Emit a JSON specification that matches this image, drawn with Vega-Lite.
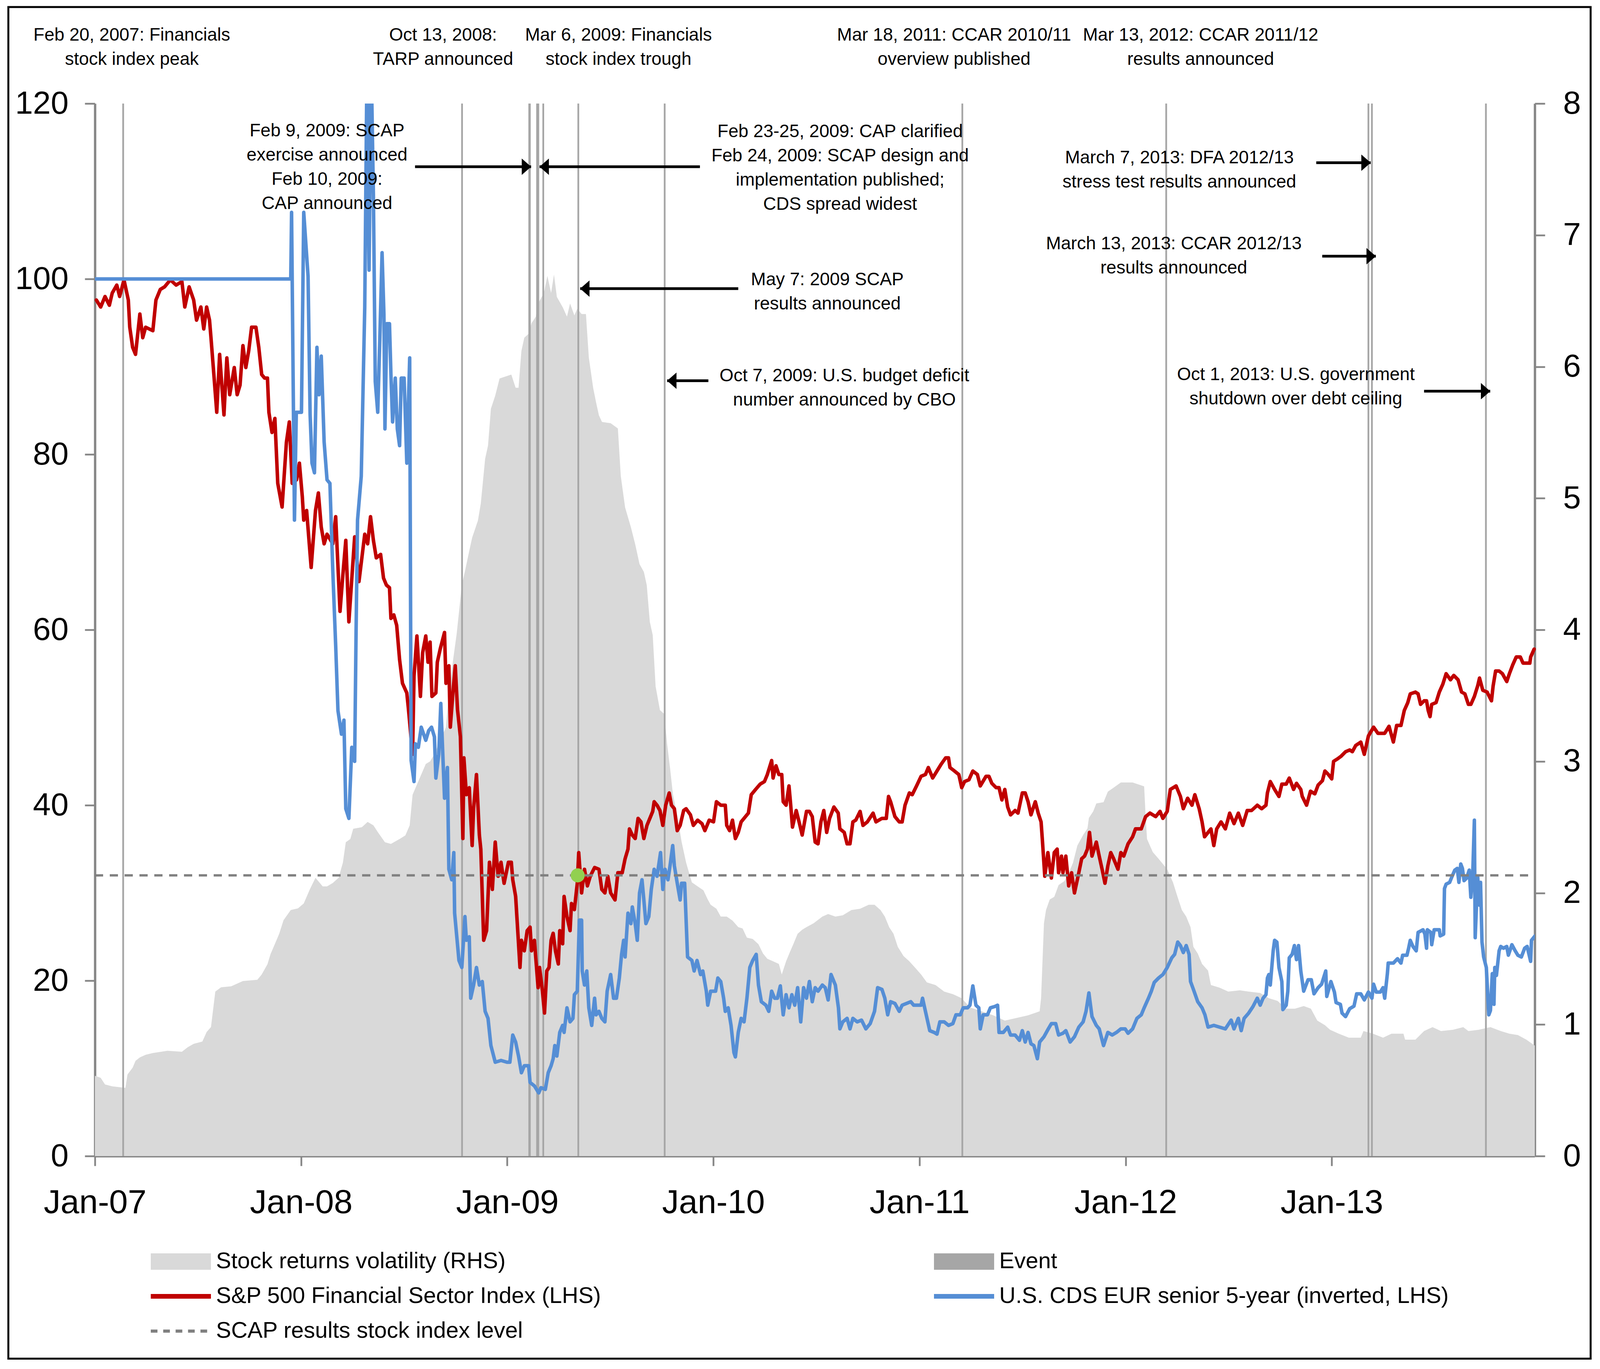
{
  "$schema": "https://vega.github.io/schema/vega-lite/v6.json",
  "width": 3686,
  "height": 2694,
  "autosize": {"type": "none"},
  "padding": {"left": 243, "top": 265, "right": 167, "bottom": 545},
  "background": "white",
  "config": {
    "view": {"stroke": null},
    "font": "Liberation Sans",
    "axis": {"labelFont": "Liberation Sans", "labelColor": "black", "domainColor": "#868686", "tickColor": "#868686", "domainWidth": 6, "tickWidth": 4.5, "grid": false, "labelLimit": 1000}
  },
  "datasets": {
    "vol": [
      {"t":2007.000,"r":0.61},{"t":2007.028,"r":0.595},{"t":2007.049,"r":0.544},{"t":2007.084,"r":0.53},{"t":2007.148,"r":0.518},{"t":2007.158,"r":0.62},
      {"t":2007.183,"r":0.672},{"t":2007.197,"r":0.724},{"t":2007.218,"r":0.75},{"t":2007.246,"r":0.77},{"t":2007.281,"r":0.783},{"t":2007.352,"r":0.80},
      {"t":2007.422,"r":0.793},{"t":2007.450,"r":0.827},{"t":2007.479,"r":0.853},{"t":2007.521,"r":0.87},{"t":2007.542,"r":0.943},{"t":2007.563,"r":0.981},
      {"t":2007.584,"r":1.25},{"t":2007.612,"r":1.283},{"t":2007.661,"r":1.29},{"t":2007.718,"r":1.33},{"t":2007.788,"r":1.34},{"t":2007.809,"r":1.38},
      {"t":2007.837,"r":1.458},{"t":2007.852,"r":1.535},{"t":2007.873,"r":1.612},{"t":2007.894,"r":1.69},{"t":2007.915,"r":1.793},{"t":2007.950,"r":1.87},
      {"t":2007.985,"r":1.883},{"t":2008.013,"r":1.92},{"t":2008.042,"r":2.025},{"t":2008.070,"r":2.115},{"t":2008.105,"r":2.05},{"t":2008.126,"r":2.05},
      {"t":2008.154,"r":2.076},{"t":2008.182,"r":2.115},{"t":2008.203,"r":2.23},{"t":2008.217,"r":2.385},{"t":2008.239,"r":2.41},{"t":2008.253,"r":2.488},
      {"t":2008.295,"r":2.5},{"t":2008.323,"r":2.54},{"t":2008.351,"r":2.514},{"t":2008.372,"r":2.463},{"t":2008.407,"r":2.385},{"t":2008.436,"r":2.373},
      {"t":2008.478,"r":2.41},{"t":2008.506,"r":2.437},{"t":2008.527,"r":2.514},{"t":2008.541,"r":2.746},{"t":2008.562,"r":2.823},{"t":2008.583,"r":2.9},
      {"t":2008.605,"r":2.98},{"t":2008.626,"r":3.0},{"t":2008.647,"r":3.055},{"t":2008.682,"r":3.184},{"t":2008.703,"r":3.26},{"t":2008.717,"r":3.52},
      {"t":2008.738,"r":3.776},{"t":2008.755,"r":3.97},{"t":2008.780,"r":4.34},{"t":2008.795,"r":4.445},{"t":2008.816,"r":4.6},{"t":2008.830,"r":4.7},
      {"t":2008.858,"r":4.83},{"t":2008.872,"r":4.96},{"t":2008.893,"r":5.3},{"t":2008.907,"r":5.4},{"t":2008.921,"r":5.68},{"t":2008.942,"r":5.78},
      {"t":2008.963,"r":5.91},{"t":2009.020,"r":5.94},{"t":2009.041,"r":5.84},{"t":2009.055,"r":5.84},{"t":2009.069,"r":6.12},{"t":2009.083,"r":6.22},
      {"t":2009.104,"r":6.25},{"t":2009.118,"r":6.33},{"t":2009.139,"r":6.38},{"t":2009.150,"r":6.48},{"t":2009.178,"r":6.56},{"t":2009.195,"r":6.69},
      {"t":2009.213,"r":6.56},{"t":2009.227,"r":6.7},{"t":2009.241,"r":6.53},{"t":2009.270,"r":6.45},{"t":2009.290,"r":6.38},{"t":2009.305,"r":6.48},
      {"t":2009.326,"r":6.39},{"t":2009.340,"r":6.44},{"t":2009.361,"r":6.4},{"t":2009.382,"r":6.4},{"t":2009.396,"r":6.07},{"t":2009.417,"r":5.84},
      {"t":2009.431,"r":5.73},{"t":2009.445,"r":5.63},{"t":2009.460,"r":5.58},{"t":2009.502,"r":5.57},{"t":2009.537,"r":5.53},{"t":2009.551,"r":5.17},
      {"t":2009.572,"r":4.93},{"t":2009.600,"r":4.78},{"t":2009.621,"r":4.65},{"t":2009.642,"r":4.5},{"t":2009.663,"r":4.44},{"t":2009.677,"r":4.34},
      {"t":2009.692,"r":4.06},{"t":2009.706,"r":3.96},{"t":2009.720,"r":3.57},{"t":2009.741,"r":3.39},{"t":2009.762,"r":3.36},{"t":2009.776,"r":3.13},
      {"t":2009.790,"r":2.95},{"t":2009.804,"r":2.75},{"t":2009.825,"r":2.59},{"t":2009.846,"r":2.39},{"t":2009.868,"r":2.23},{"t":2009.896,"r":2.08},
      {"t":2009.924,"r":2.05},{"t":2009.952,"r":2.02},{"t":2009.973,"r":1.95},{"t":2009.987,"r":1.91},{"t":2010.015,"r":1.88},{"t":2010.036,"r":1.82},
      {"t":2010.065,"r":1.82},{"t":2010.093,"r":1.79},{"t":2010.121,"r":1.74},{"t":2010.142,"r":1.73},{"t":2010.163,"r":1.66},{"t":2010.191,"r":1.65},
      {"t":2010.219,"r":1.61},{"t":2010.241,"r":1.54},{"t":2010.262,"r":1.5},{"t":2010.290,"r":1.48},{"t":2010.318,"r":1.46},{"t":2010.332,"r":1.38},
      {"t":2010.353,"r":1.48},{"t":2010.374,"r":1.56},{"t":2010.388,"r":1.61},{"t":2010.409,"r":1.69},{"t":2010.431,"r":1.72},{"t":2010.452,"r":1.74},
      {"t":2010.487,"r":1.77},{"t":2010.529,"r":1.82},{"t":2010.557,"r":1.84},{"t":2010.592,"r":1.82},{"t":2010.628,"r":1.83},{"t":2010.670,"r":1.87},
      {"t":2010.712,"r":1.88},{"t":2010.754,"r":1.91},{"t":2010.782,"r":1.91},{"t":2010.811,"r":1.87},{"t":2010.832,"r":1.82},{"t":2010.853,"r":1.74},
      {"t":2010.874,"r":1.69},{"t":2010.895,"r":1.59},{"t":2010.923,"r":1.52},{"t":2010.951,"r":1.48},{"t":2010.980,"r":1.43},{"t":2011.008,"r":1.38},
      {"t":2011.036,"r":1.32},{"t":2011.078,"r":1.3},{"t":2011.120,"r":1.25},{"t":2011.163,"r":1.23},{"t":2011.205,"r":1.2},{"t":2011.245,"r":1.13},
      {"t":2011.302,"r":1.1},{"t":2011.358,"r":1.07},{"t":2011.414,"r":1.03},{"t":2011.471,"r":1.05},{"t":2011.527,"r":1.07},{"t":2011.583,"r":1.1},
      {"t":2011.590,"r":1.2},{"t":2011.604,"r":1.77},{"t":2011.614,"r":1.87},{"t":2011.632,"r":1.95},{"t":2011.654,"r":1.97},{"t":2011.675,"r":2.06},
      {"t":2011.703,"r":2.09},{"t":2011.724,"r":2.15},{"t":2011.745,"r":2.23},{"t":2011.766,"r":2.36},{"t":2011.794,"r":2.44},{"t":2011.815,"r":2.49},
      {"t":2011.822,"r":2.57},{"t":2011.843,"r":2.62},{"t":2011.858,"r":2.68},{"t":2011.893,"r":2.69},{"t":2011.914,"r":2.77},{"t":2011.942,"r":2.8},
      {"t":2011.977,"r":2.84},{"t":2012.034,"r":2.84},{"t":2012.090,"r":2.81},{"t":2012.097,"r":2.59},{"t":2012.104,"r":2.41},{"t":2012.132,"r":2.31},
      {"t":2012.160,"r":2.26},{"t":2012.181,"r":2.22},{"t":2012.202,"r":2.18},{"t":2012.230,"r":2.08},{"t":2012.252,"r":1.97},{"t":2012.273,"r":1.87},
      {"t":2012.294,"r":1.82},{"t":2012.315,"r":1.74},{"t":2012.329,"r":1.59},{"t":2012.350,"r":1.54},{"t":2012.371,"r":1.46},{"t":2012.400,"r":1.41},
      {"t":2012.414,"r":1.3},{"t":2012.456,"r":1.28},{"t":2012.498,"r":1.25},{"t":2012.554,"r":1.26},{"t":2012.597,"r":1.25},{"t":2012.653,"r":1.24},
      {"t":2012.695,"r":1.2},{"t":2012.737,"r":1.18},{"t":2012.779,"r":1.12},{"t":2012.822,"r":1.12},{"t":2012.864,"r":1.14},{"t":2012.899,"r":1.12},
      {"t":2012.930,"r":1.03},{"t":2012.967,"r":0.995},{"t":2012.992,"r":0.96},{"t":2013.034,"r":0.93},{"t":2013.083,"r":0.9},{"t":2013.141,"r":0.9},
      {"t":2013.154,"r":0.95},{"t":2013.200,"r":0.93},{"t":2013.249,"r":0.9},{"t":2013.290,"r":0.93},{"t":2013.348,"r":0.93},{"t":2013.356,"r":0.885},
      {"t":2013.406,"r":0.885},{"t":2013.448,"r":0.95},{"t":2013.489,"r":0.98},{"t":2013.530,"r":0.95},{"t":2013.588,"r":0.96},{"t":2013.638,"r":0.98},
      {"t":2013.663,"r":0.95},{"t":2013.713,"r":0.96},{"t":2013.770,"r":0.98},{"t":2013.820,"r":0.95},{"t":2013.862,"r":0.93},{"t":2013.903,"r":0.92},
      {"t":2013.944,"r":0.885},{"t":2013.985,"r":0.84}
    ],
    "red": [
      {"t":2007.007,"v":97.6},{"t":2007.028,"v":96.8},{"t":2007.049,"v":98},{"t":2007.070,"v":97},{"t":2007.084,"v":98.4},{"t":2007.106,"v":99.3},
      {"t":2007.120,"v":98},{"t":2007.141,"v":99.9},{"t":2007.162,"v":97.6},{"t":2007.169,"v":94.5},{"t":2007.183,"v":92.2},{"t":2007.197,"v":91.4},
      {"t":2007.218,"v":96},{"t":2007.232,"v":93.3},{"t":2007.246,"v":94.5},{"t":2007.281,"v":94.1},{"t":2007.296,"v":97.6},{"t":2007.317,"v":98.8},
      {"t":2007.338,"v":99.1},{"t":2007.366,"v":99.9},{"t":2007.394,"v":99.3},{"t":2007.422,"v":99.7},{"t":2007.436,"v":96.8},{"t":2007.457,"v":99.1},
      {"t":2007.479,"v":97.6},{"t":2007.493,"v":95.3},{"t":2007.514,"v":96.8},{"t":2007.528,"v":94.3},{"t":2007.542,"v":96.8},{"t":2007.556,"v":95.3},
      {"t":2007.563,"v":93.3},{"t":2007.577,"v":89.1},{"t":2007.591,"v":84.8},{"t":2007.605,"v":91.4},{"t":2007.626,"v":84.5},{"t":2007.640,"v":91},
      {"t":2007.654,"v":86.8},{"t":2007.676,"v":89.9},{"t":2007.690,"v":86.8},{"t":2007.704,"v":87.9},{"t":2007.718,"v":92.4},{"t":2007.732,"v":89.9},
      {"t":2007.746,"v":91.8},{"t":2007.760,"v":94.5},{"t":2007.781,"v":94.5},{"t":2007.795,"v":92.2},{"t":2007.809,"v":89.1},{"t":2007.823,"v":88.7},
      {"t":2007.837,"v":88.7},{"t":2007.844,"v":84.8},{"t":2007.859,"v":82.5},{"t":2007.873,"v":84.1},{"t":2007.887,"v":76.7},{"t":2007.908,"v":74},
      {"t":2007.929,"v":81.4},{"t":2007.943,"v":83.7},{"t":2007.957,"v":76.7},{"t":2007.978,"v":77.1},{"t":2007.992,"v":79},{"t":2008.006,"v":75.2},
      {"t":2008.013,"v":72.5},{"t":2008.027,"v":73.6},{"t":2008.049,"v":67.1},{"t":2008.070,"v":73.6},{"t":2008.084,"v":75.6},{"t":2008.098,"v":71.7},
      {"t":2008.112,"v":69.8},{"t":2008.126,"v":70.9},{"t":2008.154,"v":69.8},{"t":2008.168,"v":72.9},{"t":2008.189,"v":62.1},{"t":2008.203,"v":66.3},
      {"t":2008.217,"v":70.2},{"t":2008.232,"v":60.9},{"t":2008.260,"v":70.6},{"t":2008.281,"v":65.5},{"t":2008.309,"v":70.9},{"t":2008.323,"v":69.8},
      {"t":2008.337,"v":72.9},{"t":2008.351,"v":70.2},{"t":2008.365,"v":68.2},{"t":2008.386,"v":68.6},{"t":2008.400,"v":65.9},{"t":2008.414,"v":65.1},
      {"t":2008.429,"v":64.8},{"t":2008.436,"v":61.3},{"t":2008.450,"v":61.7},{"t":2008.464,"v":60.5},{"t":2008.478,"v":56.6},{"t":2008.492,"v":53.9},
      {"t":2008.513,"v":52.8},{"t":2008.520,"v":51.2},{"t":2008.541,"v":45.8},{"t":2008.548,"v":54.7},{"t":2008.562,"v":59.3},{"t":2008.569,"v":56.6},
      {"t":2008.579,"v":52.4},{"t":2008.590,"v":57.4},{"t":2008.605,"v":59.3},{"t":2008.616,"v":56.3},{"t":2008.626,"v":58.6},{"t":2008.635,"v":52.4},
      {"t":2008.654,"v":52.8},{"t":2008.661,"v":56.3},{"t":2008.675,"v":57.8},{"t":2008.696,"v":59.7},{"t":2008.703,"v":53.9},{"t":2008.717,"v":55.9},
      {"t":2008.724,"v":48.9},{"t":2008.738,"v":53.2},{"t":2008.748,"v":55.9},{"t":2008.759,"v":50.9},{"t":2008.773,"v":47.8},{"t":2008.785,"v":36.2},
      {"t":2008.790,"v":45.4},{"t":2008.802,"v":41.2},{"t":2008.816,"v":42},{"t":2008.830,"v":35.4},{"t":2008.837,"v":39.6},{"t":2008.851,"v":43.5},
      {"t":2008.865,"v":36.6},{"t":2008.872,"v":35},{"t":2008.886,"v":24.6},{"t":2008.900,"v":25.7},{"t":2008.914,"v":33.5},{"t":2008.928,"v":30.4},
      {"t":2008.942,"v":35.8},{"t":2008.956,"v":31.9},{"t":2008.970,"v":33.5},{"t":2008.985,"v":31.1},{"t":2009.006,"v":33.5},{"t":2009.020,"v":33.5},
      {"t":2009.027,"v":31.5},{"t":2009.041,"v":29.6},{"t":2009.048,"v":26.9},{"t":2009.062,"v":21.5},{"t":2009.069,"v":24.6},{"t":2009.083,"v":23.4},
      {"t":2009.097,"v":25.7},{"t":2009.111,"v":26.1},{"t":2009.118,"v":23.4},{"t":2009.132,"v":24.6},{"t":2009.136,"v":23.4},{"t":2009.150,"v":19.2},
      {"t":2009.157,"v":21.5},{"t":2009.171,"v":18.8},{"t":2009.181,"v":16.3},{"t":2009.192,"v":21.1},{"t":2009.203,"v":21.5},{"t":2009.213,"v":24.6},
      {"t":2009.223,"v":25.4},{"t":2009.234,"v":23.4},{"t":2009.248,"v":21.9},{"t":2009.255,"v":25.7},{"t":2009.269,"v":24.2},{"t":2009.276,"v":29.6},
      {"t":2009.290,"v":27.3},{"t":2009.305,"v":25.7},{"t":2009.312,"v":28.8},{"t":2009.326,"v":28.1},{"t":2009.340,"v":31.1},{"t":2009.347,"v":34.6},
      {"t":2009.361,"v":30},{"t":2009.375,"v":32.7},{"t":2009.389,"v":30.8},{"t":2009.403,"v":31.9},{"t":2009.424,"v":32.9},{"t":2009.445,"v":32.7},
      {"t":2009.459,"v":30.4},{"t":2009.474,"v":30},{"t":2009.488,"v":31.9},{"t":2009.502,"v":30},{"t":2009.523,"v":29.2},{"t":2009.537,"v":32.3},
      {"t":2009.558,"v":32.3},{"t":2009.572,"v":33.9},{"t":2009.586,"v":35},{"t":2009.593,"v":37.3},{"t":2009.607,"v":36.6},{"t":2009.621,"v":36.2},
      {"t":2009.635,"v":38.5},{"t":2009.649,"v":38.1},{"t":2009.663,"v":36.2},{"t":2009.678,"v":37.7},{"t":2009.692,"v":38.5},{"t":2009.706,"v":39.3},
      {"t":2009.713,"v":40.4},{"t":2009.727,"v":40},{"t":2009.741,"v":39.4},{"t":2009.755,"v":37.7},{"t":2009.769,"v":40},{"t":2009.786,"v":41.4},
      {"t":2009.797,"v":40},{"t":2009.811,"v":39.6},{"t":2009.825,"v":37.1},{"t":2009.839,"v":37.7},{"t":2009.856,"v":39.4},{"t":2009.868,"v":39.6},
      {"t":2009.889,"v":38.9},{"t":2009.903,"v":37.7},{"t":2009.924,"v":38.3},{"t":2009.945,"v":37.9},{"t":2009.959,"v":37.1},{"t":2009.980,"v":38.3},
      {"t":2010.001,"v":38.1},{"t":2010.015,"v":40.4},{"t":2010.036,"v":40},{"t":2010.058,"v":40},{"t":2010.065,"v":37.7},{"t":2010.079,"v":37.1},
      {"t":2010.093,"v":38.3},{"t":2010.107,"v":36.2},{"t":2010.121,"v":36.9},{"t":2010.135,"v":38.1},{"t":2010.149,"v":38.5},{"t":2010.170,"v":39.1},
      {"t":2010.184,"v":41.2},{"t":2010.205,"v":41.8},{"t":2010.227,"v":42.4},{"t":2010.248,"v":42.7},{"t":2010.262,"v":43.5},{"t":2010.283,"v":45.1},
      {"t":2010.290,"v":43.1},{"t":2010.304,"v":44.5},{"t":2010.318,"v":43.5},{"t":2010.332,"v":43.5},{"t":2010.339,"v":40.4},{"t":2010.353,"v":40},
      {"t":2010.367,"v":42.2},{"t":2010.374,"v":40.4},{"t":2010.384,"v":37.5},{"t":2010.402,"v":39.4},{"t":2010.416,"v":38.1},{"t":2010.431,"v":36.6},
      {"t":2010.452,"v":39.3},{"t":2010.466,"v":39.3},{"t":2010.480,"v":38.7},{"t":2010.494,"v":35.8},{"t":2010.508,"v":35.6},{"t":2010.522,"v":38.1},
      {"t":2010.536,"v":39.4},{"t":2010.550,"v":36.9},{"t":2010.564,"v":38.5},{"t":2010.585,"v":39.8},{"t":2010.606,"v":39.1},{"t":2010.614,"v":37.3},
      {"t":2010.635,"v":36.9},{"t":2010.649,"v":35.6},{"t":2010.663,"v":35.6},{"t":2010.677,"v":38.1},{"t":2010.691,"v":38.3},{"t":2010.712,"v":39.3},
      {"t":2010.726,"v":37.7},{"t":2010.747,"v":38.1},{"t":2010.775,"v":39.1},{"t":2010.789,"v":38.1},{"t":2010.818,"v":38.5},{"t":2010.839,"v":38.5},
      {"t":2010.850,"v":41},{"t":2010.860,"v":40.4},{"t":2010.881,"v":38.7},{"t":2010.902,"v":38.1},{"t":2010.916,"v":38.1},{"t":2010.930,"v":40},
      {"t":2010.951,"v":41.4},{"t":2010.965,"v":41.2},{"t":2010.986,"v":42.2},{"t":2011.008,"v":43.3},{"t":2011.029,"v":43.5},{"t":2011.043,"v":44.3},
      {"t":2011.064,"v":43.1},{"t":2011.085,"v":43.9},{"t":2011.106,"v":44.7},{"t":2011.127,"v":45.4},{"t":2011.141,"v":45.4},{"t":2011.148,"v":44.3},
      {"t":2011.170,"v":43.9},{"t":2011.191,"v":43.5},{"t":2011.205,"v":42},{"t":2011.219,"v":42.7},{"t":2011.240,"v":42.9},{"t":2011.259,"v":43.9},
      {"t":2011.281,"v":43.5},{"t":2011.295,"v":42.2},{"t":2011.323,"v":43.3},{"t":2011.337,"v":43.3},{"t":2011.351,"v":42.5},{"t":2011.372,"v":42},
      {"t":2011.386,"v":42},{"t":2011.400,"v":40.6},{"t":2011.414,"v":41.8},{"t":2011.428,"v":39.8},{"t":2011.442,"v":38.9},{"t":2011.464,"v":39.4},
      {"t":2011.478,"v":39.1},{"t":2011.499,"v":41.4},{"t":2011.513,"v":41.4},{"t":2011.527,"v":40.4},{"t":2011.541,"v":38.9},{"t":2011.562,"v":40.4},
      {"t":2011.576,"v":39.1},{"t":2011.590,"v":38.1},{"t":2011.597,"v":35.8},{"t":2011.608,"v":31.9},{"t":2011.623,"v":34.6},{"t":2011.640,"v":31.7},
      {"t":2011.654,"v":34.6},{"t":2011.668,"v":35},{"t":2011.675,"v":32.3},{"t":2011.689,"v":34.2},{"t":2011.696,"v":32.3},{"t":2011.710,"v":34.2},
      {"t":2011.724,"v":30.8},{"t":2011.738,"v":32.3},{"t":2011.752,"v":30},{"t":2011.773,"v":32.3},{"t":2011.787,"v":33.9},{"t":2011.801,"v":34.2},
      {"t":2011.815,"v":35},{"t":2011.825,"v":36.9},{"t":2011.837,"v":34.2},{"t":2011.858,"v":35.8},{"t":2011.872,"v":34.2},{"t":2011.886,"v":32.7},
      {"t":2011.900,"v":31.1},{"t":2011.914,"v":33.1},{"t":2011.928,"v":34.6},{"t":2011.942,"v":33.9},{"t":2011.963,"v":32.7},{"t":2011.977,"v":34.6},
      {"t":2011.991,"v":34.2},{"t":2012.012,"v":35.6},{"t":2012.034,"v":36.4},{"t":2012.048,"v":37.3},{"t":2012.076,"v":37.3},{"t":2012.097,"v":38.7},
      {"t":2012.118,"v":39.1},{"t":2012.146,"v":38.7},{"t":2012.167,"v":39.3},{"t":2012.181,"v":38.5},{"t":2012.202,"v":39.3},{"t":2012.217,"v":41.8},
      {"t":2012.245,"v":42.2},{"t":2012.266,"v":41},{"t":2012.280,"v":39.6},{"t":2012.301,"v":40.8},{"t":2012.322,"v":40},{"t":2012.336,"v":41.2},
      {"t":2012.357,"v":39.6},{"t":2012.371,"v":38.1},{"t":2012.383,"v":36.4},{"t":2012.400,"v":36.9},{"t":2012.414,"v":37.3},{"t":2012.428,"v":35.4},
      {"t":2012.442,"v":37.3},{"t":2012.463,"v":38.1},{"t":2012.484,"v":37.3},{"t":2012.505,"v":39.1},{"t":2012.526,"v":37.9},{"t":2012.547,"v":39.1},
      {"t":2012.568,"v":37.7},{"t":2012.590,"v":39.4},{"t":2012.611,"v":39.4},{"t":2012.639,"v":40},{"t":2012.660,"v":39.6},{"t":2012.681,"v":40},
      {"t":2012.688,"v":41.4},{"t":2012.702,"v":42.7},{"t":2012.723,"v":41.8},{"t":2012.744,"v":41},{"t":2012.758,"v":42.4},{"t":2012.779,"v":42.4},
      {"t":2012.794,"v":43.1},{"t":2012.815,"v":41.8},{"t":2012.829,"v":42.5},{"t":2012.850,"v":41.8},{"t":2012.857,"v":41},{"t":2012.878,"v":40},
      {"t":2012.897,"v":41.6},{"t":2012.918,"v":41.3},{"t":2012.934,"v":42.3},{"t":2012.955,"v":42.8},{"t":2012.967,"v":43.9},{"t":2012.984,"v":43.5},
      {"t":2013.000,"v":43},{"t":2013.009,"v":45},{"t":2013.029,"v":45.3},{"t":2013.046,"v":45.6},{"t":2013.067,"v":46.1},{"t":2013.087,"v":46.3},
      {"t":2013.100,"v":46.1},{"t":2013.116,"v":46.8},{"t":2013.141,"v":47.2},{"t":2013.158,"v":45.8},{"t":2013.178,"v":47.9},{"t":2013.203,"v":48.9},
      {"t":2013.224,"v":48.2},{"t":2013.257,"v":48.2},{"t":2013.278,"v":49},{"t":2013.299,"v":47.2},{"t":2013.315,"v":49.1},{"t":2013.336,"v":49.1},
      {"t":2013.352,"v":50.8},{"t":2013.369,"v":51.7},{"t":2013.381,"v":52.7},{"t":2013.406,"v":52.9},{"t":2013.419,"v":52.7},{"t":2013.431,"v":51.5},
      {"t":2013.448,"v":51.9},{"t":2013.460,"v":51.9},{"t":2013.468,"v":50.8},{"t":2013.477,"v":50.1},{"t":2013.485,"v":51.5},{"t":2013.506,"v":51.7},
      {"t":2013.522,"v":52.9},{"t":2013.539,"v":53.8},{"t":2013.555,"v":55},{"t":2013.576,"v":54.3},{"t":2013.592,"v":54.8},{"t":2013.613,"v":54.3},
      {"t":2013.630,"v":52.9},{"t":2013.646,"v":52.7},{"t":2013.663,"v":51.5},{"t":2013.675,"v":51.5},{"t":2013.692,"v":52.4},{"t":2013.708,"v":53.6},
      {"t":2013.717,"v":54.5},{"t":2013.733,"v":53.1},{"t":2013.754,"v":52.9},{"t":2013.775,"v":51.9},{"t":2013.783,"v":53.6},{"t":2013.795,"v":55.3},
      {"t":2013.812,"v":55.3},{"t":2013.828,"v":55},{"t":2013.849,"v":54.1},{"t":2013.862,"v":55},{"t":2013.878,"v":56},{"t":2013.895,"v":56.9},
      {"t":2013.915,"v":56.9},{"t":2013.928,"v":56.2},{"t":2013.944,"v":56.2},{"t":2013.961,"v":56.2},{"t":2013.965,"v":56.9},{"t":2013.982,"v":57.8}
    ],
    "blue": [
      {"t":2007.000,"v":100},{"t":2007.950,"v":100},{"t":2007.954,"v":107.6},{"t":2007.968,"v":72.5},{"t":2007.977,"v":84.8},{"t":2008.002,"v":84.8},
      {"t":2008.013,"v":107.6},{"t":2008.034,"v":100.3},{"t":2008.044,"v":84.5},{"t":2008.053,"v":79},{"t":2008.065,"v":77.9},{"t":2008.077,"v":92.2},
      {"t":2008.087,"v":86.8},{"t":2008.098,"v":91.2},{"t":2008.112,"v":81.4},{"t":2008.126,"v":77.1},{"t":2008.140,"v":76.7},{"t":2008.154,"v":66.7},
      {"t":2008.168,"v":58.2},{"t":2008.179,"v":50.8},{"t":2008.196,"v":48.1},{"t":2008.208,"v":49.7},{"t":2008.217,"v":39.6},{"t":2008.232,"v":38.5},
      {"t":2008.246,"v":46.6},{"t":2008.260,"v":45},{"t":2008.267,"v":60},{"t":2008.274,"v":72.5},{"t":2008.292,"v":77.5},{"t":2008.309,"v":96.8},
      {"t":2008.320,"v":125},{"t":2008.330,"v":101},{"t":2008.340,"v":125},{"t":2008.351,"v":109.6},{"t":2008.360,"v":88.3},{"t":2008.372,"v":84.8},
      {"t":2008.382,"v":93},{"t":2008.393,"v":103},{"t":2008.402,"v":96},{"t":2008.407,"v":82.9},{"t":2008.416,"v":94.9},{"t":2008.429,"v":94.9},
      {"t":2008.436,"v":89.1},{"t":2008.444,"v":83.7},{"t":2008.457,"v":88.7},{"t":2008.467,"v":82.9},{"t":2008.478,"v":81},{"t":2008.486,"v":88.7},
      {"t":2008.500,"v":88.7},{"t":2008.513,"v":79},{"t":2008.527,"v":91},{"t":2008.534,"v":45.1},{"t":2008.548,"v":42.7},{"t":2008.555,"v":47},
      {"t":2008.569,"v":46.6},{"t":2008.583,"v":48.9},{"t":2008.605,"v":47.4},{"t":2008.619,"v":48.5},{"t":2008.633,"v":48.9},{"t":2008.647,"v":47.8},
      {"t":2008.654,"v":43.1},{"t":2008.668,"v":45.8},{"t":2008.678,"v":51.6},{"t":2008.689,"v":45},{"t":2008.696,"v":40.8},{"t":2008.710,"v":44.3},
      {"t":2008.717,"v":32.7},{"t":2008.731,"v":31.5},{"t":2008.741,"v":34.6},{"t":2008.745,"v":27.7},{"t":2008.766,"v":22.3},{"t":2008.780,"v":21.5},
      {"t":2008.795,"v":27.3},{"t":2008.802,"v":24.6},{"t":2008.816,"v":25},{"t":2008.823,"v":18},{"t":2008.837,"v":19.5},{"t":2008.851,"v":21.5},
      {"t":2008.865,"v":19.5},{"t":2008.879,"v":19.9},{"t":2008.893,"v":16.5},{"t":2008.907,"v":15.7},{"t":2008.921,"v":12.6},{"t":2008.942,"v":10.7},
      {"t":2008.970,"v":10.9},{"t":2008.999,"v":10.7},{"t":2009.013,"v":10.7},{"t":2009.027,"v":13.8},{"t":2009.041,"v":13},{"t":2009.055,"v":11.4},
      {"t":2009.069,"v":9.5},{"t":2009.083,"v":10.3},{"t":2009.104,"v":10.3},{"t":2009.111,"v":8.4},{"t":2009.132,"v":8},{"t":2009.153,"v":7.2},
      {"t":2009.164,"v":7.8},{"t":2009.185,"v":7.6},{"t":2009.199,"v":9.5},{"t":2009.213,"v":10.3},{"t":2009.223,"v":11.1},{"t":2009.231,"v":12.6},
      {"t":2009.241,"v":11.4},{"t":2009.255,"v":14.1},{"t":2009.269,"v":14.9},{"t":2009.276,"v":14.1},{"t":2009.290,"v":16.9},{"t":2009.305,"v":15.3},
      {"t":2009.319,"v":15.7},{"t":2009.326,"v":18.4},{"t":2009.340,"v":18.8},{"t":2009.350,"v":26.9},{"t":2009.361,"v":26.9},{"t":2009.364,"v":21.1},
      {"t":2009.375,"v":19.5},{"t":2009.386,"v":21.1},{"t":2009.396,"v":16.9},{"t":2009.410,"v":14.9},{"t":2009.424,"v":18},{"t":2009.431,"v":16.1},
      {"t":2009.445,"v":16.5},{"t":2009.459,"v":15.7},{"t":2009.474,"v":15.3},{"t":2009.485,"v":18.8},{"t":2009.502,"v":20.7},{"t":2009.516,"v":18},
      {"t":2009.530,"v":18},{"t":2009.544,"v":20.3},{"t":2009.555,"v":23},{"t":2009.565,"v":24.6},{"t":2009.572,"v":22.7},{"t":2009.586,"v":27.7},
      {"t":2009.600,"v":26.5},{"t":2009.607,"v":28.4},{"t":2009.621,"v":26.5},{"t":2009.631,"v":24.6},{"t":2009.642,"v":30},{"t":2009.654,"v":31.5},
      {"t":2009.663,"v":29.2},{"t":2009.673,"v":26.5},{"t":2009.687,"v":27.3},{"t":2009.699,"v":30.4},{"t":2009.713,"v":32.7},{"t":2009.727,"v":31.9},
      {"t":2009.744,"v":34.6},{"t":2009.755,"v":30.4},{"t":2009.766,"v":32.7},{"t":2009.780,"v":31.5},{"t":2009.790,"v":33.1},{"t":2009.803,"v":35.4},
      {"t":2009.811,"v":33.1},{"t":2009.825,"v":31.1},{"t":2009.839,"v":29.2},{"t":2009.846,"v":31.1},{"t":2009.861,"v":31.1},{"t":2009.875,"v":22.7},
      {"t":2009.896,"v":22.3},{"t":2009.907,"v":21.1},{"t":2009.921,"v":22.3},{"t":2009.938,"v":20.7},{"t":2009.949,"v":21.1},{"t":2009.966,"v":18.8},
      {"t":2009.973,"v":17.2},{"t":2009.987,"v":18.8},{"t":2010.011,"v":18.8},{"t":2010.022,"v":20.3},{"t":2010.036,"v":19.9},{"t":2010.050,"v":18},
      {"t":2010.058,"v":16.5},{"t":2010.072,"v":16.9},{"t":2010.086,"v":14.9},{"t":2010.100,"v":11.8},{"t":2010.107,"v":11.3},{"t":2010.121,"v":14.1},
      {"t":2010.135,"v":15.7},{"t":2010.149,"v":15.3},{"t":2010.163,"v":18},{"t":2010.177,"v":21.5},{"t":2010.191,"v":22.3},{"t":2010.208,"v":23},
      {"t":2010.219,"v":19.5},{"t":2010.233,"v":17.6},{"t":2010.255,"v":17.2},{"t":2010.269,"v":16.5},{"t":2010.283,"v":18.8},{"t":2010.297,"v":18},
      {"t":2010.311,"v":18},{"t":2010.325,"v":19.4},{"t":2010.339,"v":16.1},{"t":2010.353,"v":18.4},{"t":2010.367,"v":16.9},{"t":2010.381,"v":18.4},
      {"t":2010.395,"v":17.2},{"t":2010.409,"v":19.2},{"t":2010.424,"v":15.3},{"t":2010.438,"v":19.2},{"t":2010.452,"v":18},{"t":2010.466,"v":19.9},
      {"t":2010.480,"v":17.6},{"t":2010.494,"v":19.2},{"t":2010.508,"v":18.8},{"t":2010.529,"v":19.5},{"t":2010.543,"v":19.2},{"t":2010.557,"v":17.8},
      {"t":2010.571,"v":20.7},{"t":2010.592,"v":19.5},{"t":2010.607,"v":16.9},{"t":2010.614,"v":14.5},{"t":2010.628,"v":15.3},{"t":2010.649,"v":15.7},
      {"t":2010.663,"v":14.5},{"t":2010.677,"v":15.7},{"t":2010.698,"v":15.3},{"t":2010.719,"v":15.5},{"t":2010.740,"v":14.5},{"t":2010.761,"v":15.1},
      {"t":2010.782,"v":16.5},{"t":2010.797,"v":19.2},{"t":2010.818,"v":19},{"t":2010.832,"v":18},{"t":2010.846,"v":16.1},{"t":2010.860,"v":17.6},
      {"t":2010.881,"v":17.4},{"t":2010.902,"v":16.5},{"t":2010.916,"v":17.2},{"t":2010.937,"v":17.4},{"t":2010.958,"v":17.6},{"t":2010.972,"v":17.2},
      {"t":2011.008,"v":17.2},{"t":2011.015,"v":18},{"t":2011.029,"v":16.5},{"t":2011.050,"v":14.3},{"t":2011.071,"v":14.1},{"t":2011.085,"v":13.9},
      {"t":2011.099,"v":15.3},{"t":2011.120,"v":15.3},{"t":2011.141,"v":14.9},{"t":2011.162,"v":15.1},{"t":2011.177,"v":16.1},{"t":2011.198,"v":16.1},
      {"t":2011.212,"v":16.9},{"t":2011.233,"v":16.9},{"t":2011.245,"v":17.2},{"t":2011.259,"v":19.4},{"t":2011.274,"v":17.2},{"t":2011.288,"v":16.9},
      {"t":2011.295,"v":14.5},{"t":2011.309,"v":16.1},{"t":2011.330,"v":16.1},{"t":2011.344,"v":16.9},{"t":2011.365,"v":17.05},{"t":2011.379,"v":17.2},
      {"t":2011.386,"v":14.1},{"t":2011.407,"v":14.1},{"t":2011.428,"v":14.7},{"t":2011.442,"v":13.8},{"t":2011.464,"v":13.8},{"t":2011.485,"v":13.2},
      {"t":2011.499,"v":14.3},{"t":2011.513,"v":13},{"t":2011.527,"v":14.1},{"t":2011.541,"v":12.8},{"t":2011.555,"v":12.6},{"t":2011.572,"v":11.1},
      {"t":2011.583,"v":13},{"t":2011.604,"v":13.6},{"t":2011.625,"v":14.5},{"t":2011.640,"v":15.1},{"t":2011.661,"v":15.1},{"t":2011.675,"v":13.8},
      {"t":2011.696,"v":14},{"t":2011.710,"v":14.3},{"t":2011.731,"v":13},{"t":2011.752,"v":13.6},{"t":2011.773,"v":14.7},{"t":2011.794,"v":15.3},
      {"t":2011.808,"v":16.5},{"t":2011.822,"v":18.6},{"t":2011.837,"v":15.9},{"t":2011.858,"v":14.9},{"t":2011.872,"v":14.5},{"t":2011.893,"v":12.6},
      {"t":2011.914,"v":14.1},{"t":2011.935,"v":13.8},{"t":2011.956,"v":14.1},{"t":2011.977,"v":14.5},{"t":2011.998,"v":14.5},{"t":2012.012,"v":14},
      {"t":2012.034,"v":14.5},{"t":2012.055,"v":15.7},{"t":2012.076,"v":16.1},{"t":2012.090,"v":16.9},{"t":2012.111,"v":18},{"t":2012.125,"v":18.8},
      {"t":2012.139,"v":19.8},{"t":2012.160,"v":20.3},{"t":2012.181,"v":20.7},{"t":2012.202,"v":21.5},{"t":2012.224,"v":22.6},{"t":2012.238,"v":23},
      {"t":2012.253,"v":24.4},{"t":2012.266,"v":24},{"t":2012.280,"v":23.2},{"t":2012.294,"v":24},{"t":2012.308,"v":23},{"t":2012.315,"v":19.9},
      {"t":2012.329,"v":19},{"t":2012.350,"v":17.6},{"t":2012.371,"v":16.9},{"t":2012.385,"v":16.1},{"t":2012.400,"v":14.7},{"t":2012.428,"v":14.9},
      {"t":2012.456,"v":14.7},{"t":2012.484,"v":14.5},{"t":2012.512,"v":15.5},{"t":2012.526,"v":14.5},{"t":2012.547,"v":15.7},{"t":2012.561,"v":14.3},
      {"t":2012.575,"v":15.7},{"t":2012.597,"v":16.3},{"t":2012.618,"v":17.05},{"t":2012.639,"v":18},{"t":2012.653,"v":17.2},{"t":2012.667,"v":18},
      {"t":2012.681,"v":18.4},{"t":2012.688,"v":20.3},{"t":2012.695,"v":20.7},{"t":2012.702,"v":19.5},{"t":2012.716,"v":23.4},{"t":2012.723,"v":24.6},
      {"t":2012.734,"v":24.4},{"t":2012.744,"v":21.5},{"t":2012.758,"v":19.9},{"t":2012.763,"v":16.7},{"t":2012.779,"v":17.2},{"t":2012.787,"v":18.8},
      {"t":2012.794,"v":22.6},{"t":2012.808,"v":23},{"t":2012.819,"v":24},{"t":2012.829,"v":22.4},{"t":2012.839,"v":24},{"t":2012.850,"v":21.1},
      {"t":2012.864,"v":18.8},{"t":2012.885,"v":20.1},{"t":2012.901,"v":20.1},{"t":2012.914,"v":18.5},{"t":2012.934,"v":19.2},{"t":2012.951,"v":19.6},
      {"t":2012.971,"v":21.1},{"t":2012.976,"v":18.2},{"t":2012.996,"v":19.9},{"t":2013.013,"v":18.7},{"t":2013.021,"v":17.5},{"t":2013.042,"v":17.3},
      {"t":2013.050,"v":16.3},{"t":2013.067,"v":15.9},{"t":2013.087,"v":16.8},{"t":2013.108,"v":17.1},{"t":2013.121,"v":18.5},{"t":2013.141,"v":18.5},
      {"t":2013.158,"v":17.8},{"t":2013.178,"v":18.7},{"t":2013.195,"v":18},{"t":2013.203,"v":19.6},{"t":2013.216,"v":18.7},{"t":2013.236,"v":18.7},
      {"t":2013.249,"v":19.2},{"t":2013.257,"v":18},{"t":2013.270,"v":20.8},{"t":2013.274,"v":22},{"t":2013.299,"v":22},{"t":2013.319,"v":22.5},
      {"t":2013.336,"v":22},{"t":2013.344,"v":22.9},{"t":2013.365,"v":22.9},{"t":2013.373,"v":23.7},{"t":2013.381,"v":24.6},{"t":2013.394,"v":23.9},
      {"t":2013.410,"v":23.4},{"t":2013.419,"v":25.5},{"t":2013.443,"v":25.8},{"t":2013.452,"v":25.3},{"t":2013.460,"v":23.7},{"t":2013.464,"v":25.8},
      {"t":2013.481,"v":25.5},{"t":2013.485,"v":24.1},{"t":2013.497,"v":25.8},{"t":2013.522,"v":25.8},{"t":2013.526,"v":25.1},{"t":2013.543,"v":25.3},
      {"t":2013.547,"v":30.5},{"t":2013.555,"v":31},{"t":2013.572,"v":31.2},{"t":2013.584,"v":31.9},{"t":2013.597,"v":32.6},{"t":2013.609,"v":32.8},
      {"t":2013.617,"v":31.2},{"t":2013.626,"v":33.3},{"t":2013.634,"v":32.8},{"t":2013.642,"v":31.4},{"t":2013.655,"v":31.7},{"t":2013.667,"v":32.6},
      {"t":2013.675,"v":29.5},{"t":2013.684,"v":32.1},{"t":2013.692,"v":38.3},{"t":2013.696,"v":24.9},{"t":2013.708,"v":31.9},{"t":2013.717,"v":28.6},
      {"t":2013.722,"v":31.2},{"t":2013.729,"v":24.4},{"t":2013.737,"v":22.7},{"t":2013.750,"v":21.5},{"t":2013.762,"v":16.1},{"t":2013.770,"v":16.6},
      {"t":2013.779,"v":20.8},{"t":2013.787,"v":17.3},{"t":2013.791,"v":21.5},{"t":2013.799,"v":20.6},{"t":2013.812,"v":23.4},{"t":2013.820,"v":23.9},
      {"t":2013.833,"v":23.7},{"t":2013.849,"v":23.9},{"t":2013.857,"v":22.9},{"t":2013.874,"v":24.1},{"t":2013.890,"v":23.4},{"t":2013.903,"v":22.9},
      {"t":2013.920,"v":22.7},{"t":2013.936,"v":23.7},{"t":2013.948,"v":23.9},{"t":2013.965,"v":22.2},{"t":2013.969,"v":24.6},{"t":2013.986,"v":25.1}
    ],
    "events": [
      {"t":2007.137},{"t":2008.781},{"t":2009.107},{"t":2009.110},{"t":2009.145},{"t":2009.148},{"t":2009.151},{"t":2009.175},
      {"t":2009.345},{"t":2009.764},{"t":2011.208},{"t":2012.197},{"t":2013.178},{"t":2013.195},{"t":2013.748}
    ],
    "notes": [
      {"t":2007.179,"v":127.8,"text":"Feb 20, 2007: Financials\nstock index peak"},
      {"t":2008.689,"v":127.8,"text":"Oct 13, 2008:\nTARP announced"},
      {"t":2009.540,"v":127.8,"text":"Mar 6, 2009: Financials\nstock index trough"},
      {"t":2011.168,"v":127.8,"text":"Mar 18, 2011: CCAR 2010/11\noverview published"},
      {"t":2012.364,"v":127.8,"text":"Mar 13, 2012: CCAR 2011/12\nresults announced"},
      {"t":2008.126,"v":116.9,"text":"Feb 9, 2009: SCAP\nexercise announced\nFeb 10, 2009:\nCAP announced"},
      {"t":2010.615,"v":116.8,"text":"Feb 23-25, 2009: CAP clarified\nFeb 24, 2009: SCAP design and\nimplementation published;\nCDS spread widest"},
      {"t":2010.553,"v":99.9,"text":"May 7: 2009 SCAP\nresults announced"},
      {"t":2010.636,"v":88.95,"text":"Oct 7, 2009: U.S. budget deficit\nnumber announced by CBO"},
      {"t":2012.261,"v":113.8,"text":"March 7, 2013: DFA 2012/13\nstress test results announced"},
      {"t":2012.234,"v":104.0,"text":"March 13, 2013: CCAR 2012/13\nresults announced"},
      {"t":2012.826,"v":89.1,"text":"Oct 1, 2013: U.S. government\nshutdown over debt ceiling"}
    ],
    "arrows": [
      {"t":2008.553,"t2":2009.116,"v":112.8},
      {"t":2009.935,"t2":2009.157,"v":112.8},
      {"t":2010.121,"t2":2009.354,"v":98.9},
      {"t":2009.976,"t2":2009.776,"v":88.4},
      {"t":2012.925,"t2":2013.189,"v":113.25},
      {"t":2012.954,"t2":2013.214,"v":102.6},
      {"t":2013.448,"t2":2013.769,"v":87.2}
    ],
    "heads": [
      {"t":2009.116,"v":112.8,"dir":"right"},
      {"t":2009.157,"v":112.8,"dir":"left"},
      {"t":2009.354,"v":98.9,"dir":"left"},
      {"t":2009.776,"v":88.4,"dir":"left"},
      {"t":2013.189,"v":113.25,"dir":"right"},
      {"t":2013.214,"v":102.6,"dir":"right"},
      {"t":2013.769,"v":87.2,"dir":"right"}
    ]
  },
  "encoding": {
    "x": {"field": "t", "type": "quantitative",
      "scale": {"domain": [2007, 2013.985], "nice": false, "zero": false},
      "axis": {"title": null, "values": [2007, 2008, 2009, 2010, 2011, 2012, 2013],
        "labelExpr": "'Jan-' + slice(toString(datum.value), 2)",
        "labelFontSize": 86, "labelPadding": 52, "tickSize": 25, "labelFlush": false, "labelOverlap": false}}
  },
  "resolve": {"scale": {"y": "independent"}},
  "layer": [
    {
      "data": {"name": "vol"},
      "mark": {"type": "area", "interpolate": "linear"},
      "encoding": {
        "y": {"field": "r", "type": "quantitative",
          "scale": {"domain": [0, 8], "nice": false},
          "axis": {"orient": "right", "title": null, "values": [0, 1, 2, 3, 4, 5, 6, 7, 8], "format": "d",
            "labelFontSize": 82, "labelPadding": 46, "tickSize": 26}},
        "color": {"datum": "Stock returns volatility (RHS)", "type": "nominal",
          "scale": {
            "domain": ["Stock returns volatility (RHS)", "Event", "S&P 500 Financial Sector Index (LHS)", "U.S. CDS EUR senior 5-year (inverted, LHS)", "SCAP results stock index level"],
            "range": ["#d9d9d9", "#a6a6a6", "#c00000", "#558ed5", "#808080"]},
          "legend": {
            "orient": "none", "legendX": 190, "legendY": 2934, "title": null, "padding": 0,
            "direction": "horizontal", "columns": 2, "columnPadding": 850, "rowPadding": 30,
            "symbolSize": 3600, "labelOffset": 60, "labelFontSize": 58, "labelFont": "Liberation Sans",
            "labelColor": "black", "labelLimit": 3000, "symbolStrokeWidth": 0, "symbolOpacity": 1,
            "encode": {"symbols": {"update": {
              "shape": {"signal": "indexof(['Stock returns volatility (RHS)','Event'], datum.value) >= 0 ? 'M-2.567,-0.7H2.567V0.7H-2.567Z' : datum.value == 'SCAP results stock index level' ? 'M-2.567,-0.13H-1.997V0.13H-2.567ZM-1.507,-0.13H-0.937V0.13H-1.507ZM-0.447,-0.13H0.123V0.13H-0.447ZM0.613,-0.13H1.183V0.13H0.613ZM1.673,-0.13H2.243V0.13H1.673Z' : 'M-2.567,-0.2H2.567V0.2H-2.567Z'"},
              "fill": {"signal": "scale('color', datum.value)"},
              "fillOpacity": {"value": 1},
              "opacity": {"value": 1},
              "strokeWidth": {"value": 0}
            }}}
          }}
      }
    },
    {
      "data": {"name": "events"},
      "mark": {"type": "rule", "strokeWidth": 4.5},
      "encoding": {
        "color": {"datum": "Event", "type": "nominal"}
      }
    },
    {
      "encoding": {
        "y": {"field": "v", "type": "quantitative",
          "scale": {"domain": [0, 120], "nice": false},
          "axis": {"orient": "left", "title": null, "values": [0, 20, 40, 60, 80, 100, 120], "format": "d",
            "labelFontSize": 82, "labelPadding": 42, "tickSize": 26}}
      },
      "layer": [
        {
          "data": {"values": [{"t": 2006.58, "t2": 2014.256, "v": 131.0, "v2": -23.1}]},
          "mark": {"type": "rect", "fill": "white", "fillOpacity": 0, "stroke": "black", "strokeWidth": 5},
          "encoding": {"x2": {"field": "t2"}, "y2": {"field": "v2"}}
        },
        {
          "data": {"name": "red"},
          "mark": {"type": "line", "strokeWidth": 9, "strokeJoin": "round", "strokeCap": "round"},
          "encoding": {"color": {"datum": "S&P 500 Financial Sector Index (LHS)", "type": "nominal"}}
        },
        {
          "data": {"name": "blue"},
          "mark": {"type": "line", "strokeWidth": 9, "strokeJoin": "round", "strokeCap": "round", "clip": true},
          "encoding": {"color": {"datum": "U.S. CDS EUR senior 5-year (inverted, LHS)", "type": "nominal"}}
        },
        {
          "data": {"values": [{"t": 2007, "t2": 2013.985, "v": 32}]},
          "mark": {"type": "rule", "strokeWidth": 6, "strokeDash": [21, 17]},
          "encoding": {"x2": {"field": "t2"}, "color": {"datum": "SCAP results stock index level", "type": "nominal"}}
        },
        {
          "data": {"values": [{"t": 2009.342, "v": 32}]},
          "mark": {"type": "point", "filled": true, "color": "#92d050", "opacity": 1, "size": 1300}
        },
        {
          "data": {"name": "arrows"},
          "mark": {"type": "rule", "strokeWidth": 7, "color": "black"},
          "encoding": {"x2": {"field": "t2"}}
        },
        {
          "data": {"name": "heads"},
          "mark": {"type": "point", "filled": true, "color": "black", "opacity": 1, "size": 1764, "strokeWidth": 0},
          "encoding": {
            "shape": {"field": "dir", "type": "nominal", "legend": null,
              "scale": {"domain": ["right", "left"], "range": ["M0,0L-1.14,-1L-1.14,1Z", "M0,0L1.14,-1L1.14,1Z"]}}
          }
        },
        {
          "data": {"name": "notes"},
          "mark": {"type": "text", "font": "Liberation Sans", "fontSize": 46, "lineHeight": 62, "lineBreak": "\n", "align": "center", "baseline": "middle", "color": "black"},
          "encoding": {"text": {"field": "text"}}
        }
      ]
    }
  ]
}
